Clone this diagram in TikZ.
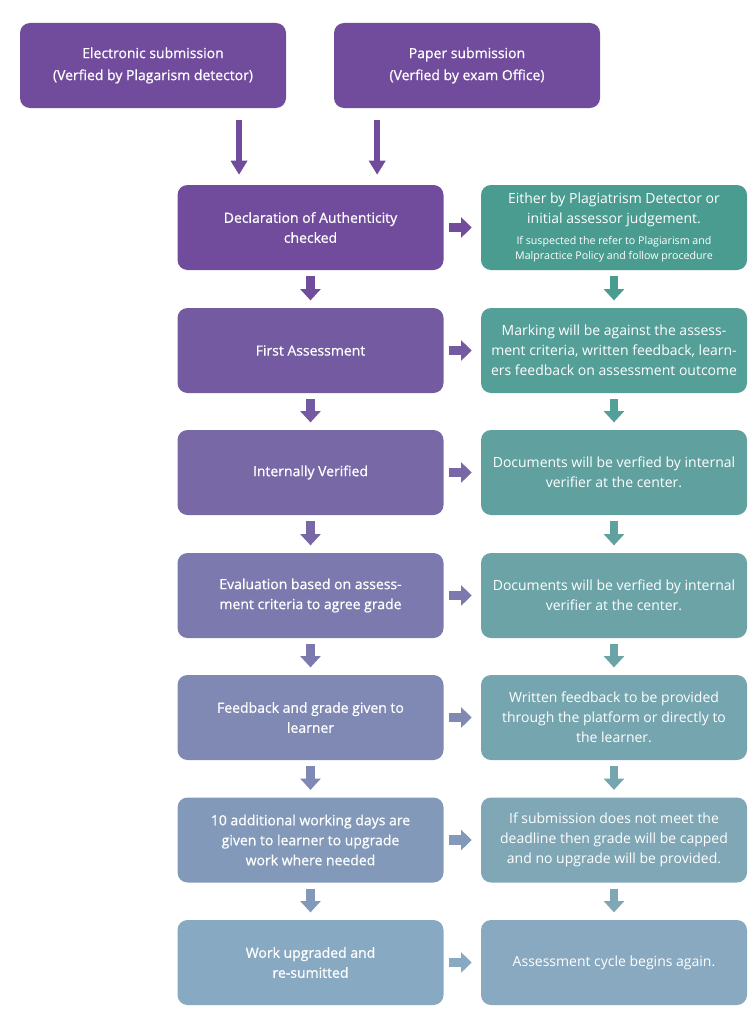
\documentclass[tikz,border=0pt]{standalone}
\usepackage{fontspec}
\setmainfont{Open Sans}
\newfontfamily\semib{Open Sans}[FakeBold=0.7]
\usepackage{xcolor}
\usetikzlibrary{arrows.meta,positioning,calc}

\definecolor{lA}{HTML}{714C9C}
\definecolor{lB}{HTML}{745AA0}
\definecolor{lC}{HTML}{7868A6}
\definecolor{lD}{HTML}{7B79AD}
\definecolor{lE}{HTML}{7F89B4}
\definecolor{lF}{HTML}{8399BA}
\definecolor{lG}{HTML}{88A9C2}
\definecolor{rA}{HTML}{4A9C90}
\definecolor{rB}{HTML}{559F99}
\definecolor{rC}{HTML}{60A1A0}
\definecolor{rD}{HTML}{6BA3A7}
\definecolor{rE}{HTML}{75A5AE}
\definecolor{rF}{HTML}{7FA7B6}
\definecolor{rG}{HTML}{88A9C0}

\tikzset{
  box/.style={rounded corners=7.5pt, minimum width=199.5pt, minimum height=63.75pt,
    inner sep=2pt, align=center, text=white, font=\fontsize{10.5}{15}\selectfont},
  stepbox/.style={box, font=\fontsize{10.5}{15}\selectfont\semib},
  toparrow/.style={line width=4.5pt, -{Triangle[width=12pt,length=10.5pt]},
    shorten <=9pt, shorten >=7.5pt},
  downarrow/.style={line width=6.5pt, -{Triangle[width=15pt,length=8.5pt]},
    shorten <=4.5pt, shorten >=5.5pt},
  sidearrow/.style={line width=7pt, -{Triangle[width=15pt,length=8pt]},
    shorten <=3.75pt, shorten >=6.75pt},
}

\begin{document}
\begin{tikzpicture}[x=0.75pt,y=0.75pt,yscale=-1,xscale=1]
\useasboundingbox (0,0) rectangle (756,1024);

%Top boxes
\node [stepbox, fill=lA, font=\fontsize{10.5}{16.5}\selectfont\semib] (elec) at (153,65.5) {Electronic submission\\(Verfied by Plagarism detector)};
\node [stepbox, fill=lA, font=\fontsize{10.5}{16.5}\selectfont\semib] (paper) at (467,65.5) {Paper submission\\(Verfied by exam Office)};

%Left column
\node [stepbox, fill=lA] (decl) at (310.5,227.5) {Declaration of Authenticity\\checked};
\node [stepbox, fill=lB] (first) at (310.5,350.5) {First Assessment};
\node [stepbox, fill=lC] (intver) at (310.5,472.5) {Internally Verified};
\node [stepbox, fill=lD] (evalgr) at (310.5,595.5) {Evaluation based on assess-\\ment criteria to agree grade};
\node [stepbox, fill=lE] (feedb) at (310.5,717.5) {Feedback and grade given to\\learner};
\node [stepbox, fill=lF] (extra) at (310.5,840) {10 additional working days are\\given to learner to upgrade\\work where needed};
\node [stepbox, fill=lG] (upgr) at (310.5,962.5) {Work upgraded and\\re-sumitted};

%Right column
\node [box, fill=rA] (detect) at (614,227.5) {Either by Plagiatrism Detector or\\initial assessor judgement.\\[1pt]
  {\fontsize{8}{11}\selectfont If suspected the refer to Plagiarism and}\\[-3.5pt]
  {\fontsize{8}{11}\selectfont Malpractice Policy and follow procedure}};
\node [box, fill=rB] (marking) at (614,350.5) {Marking will be against the assess-\\ment criteria, written feedback, learn-\\ers feedback on assessment outcome};
\node [box, fill=rC] (docsA) at (614,472.5) {Documents will be verfied by internal\\verifier at the center.};
\node [box, fill=rD] (docsB) at (614,595.5) {Documents will be verfied by internal\\verifier at the center.};
\node [box, fill=rE] (written) at (614,717.5) {Written feedback to be provided\\through the platform or directly to\\the learner.};
\node [box, fill=rF] (capped) at (614,840) {If submission does not meet the\\deadline then grade will be capped\\and no upgrade will be provided.};
\node [box, fill=rG] (cycle) at (614,962.5) {Assessment cycle begins again.};

%Top arrows
\coordinate (inA) at ([xshift=-53.6pt]decl.north);
\coordinate (inB) at ([xshift=50pt]decl.north);
\draw [toparrow, color=lA] (elec.south -| inA) -- (inA);
\draw [toparrow, color=lA] (paper.south -| inB) -- (inB);

%Left column arrows
\draw [downarrow, color=lA] (decl) -- (first);
\draw [downarrow, color=lB] (first) -- (intver);
\draw [downarrow, color=lC] (intver) -- (evalgr);
\draw [downarrow, color=lD] (evalgr) -- (feedb);
\draw [downarrow, color=lE] (feedb) -- (extra);
\draw [downarrow, color=lF] (extra) -- (upgr);

%Right column arrows
\draw [downarrow, color=rA] (detect) -- (marking);
\draw [downarrow, color=rB] (marking) -- (docsA);
\draw [downarrow, color=rC] (docsA) -- (docsB);
\draw [downarrow, color=rD] (docsB) -- (written);
\draw [downarrow, color=rE] (written) -- (capped);
\draw [downarrow, color=rF] (capped) -- (cycle);

%Side arrows
\draw [sidearrow, color=lA] (decl) -- (detect);
\draw [sidearrow, color=lB] (first) -- (marking);
\draw [sidearrow, color=lC] (intver) -- (docsA);
\draw [sidearrow, color=lD] (evalgr) -- (docsB);
\draw [sidearrow, color=lE] (feedb) -- (written);
\draw [sidearrow, color=lF] (extra) -- (capped);
\draw [sidearrow, color=lG] (upgr) -- (cycle);

\end{tikzpicture}
\end{document}
